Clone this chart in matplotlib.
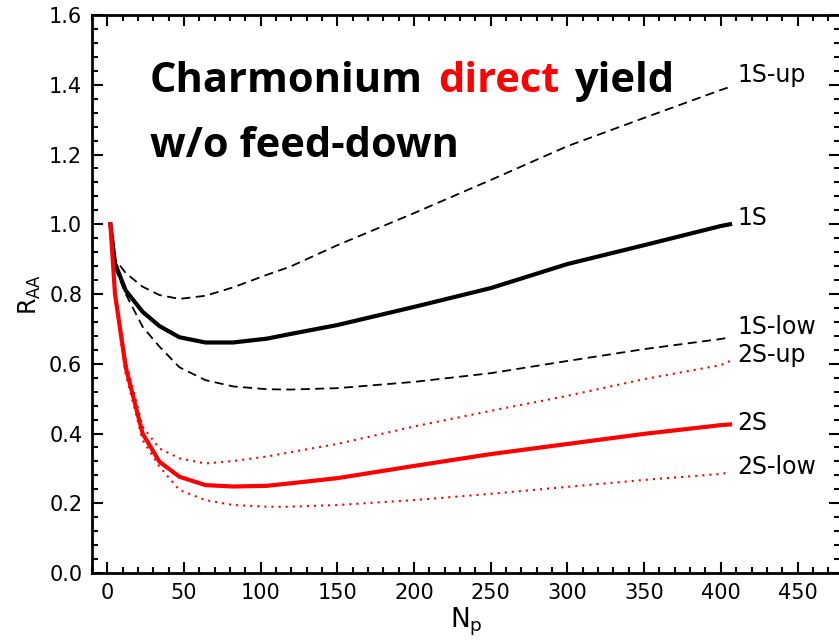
import numpy as np
import matplotlib
matplotlib.use("Agg")
import matplotlib.pyplot as plt
from matplotlib import ticker

# participant number
npart = [2, 5, 12, 23, 34, 47, 64, 82, 104, 119, 150, 200, 250, 300, 350, 400, 406]

# ground state 1S and its band
r1s = [1.0, 0.888, 0.81, 0.749, 0.708, 0.676, 0.661, 0.661, 0.672, 0.685, 0.711, 0.763, 0.817, 0.886, 0.94, 0.995, 1.0]
r1s_up = [1.0, 0.90, 0.86, 0.821, 0.797, 0.786, 0.795, 0.819, 0.855, 0.878, 0.94, 1.032, 1.127, 1.224, 1.305, 1.385, 1.394]
r1s_low = [1.0, 0.875, 0.80, 0.706, 0.649, 0.59, 0.553, 0.535, 0.527, 0.526, 0.53, 0.548, 0.573, 0.608, 0.642, 0.671, 0.676]

# excited state 2S and its band
r2s = [1.0, 0.80, 0.59, 0.40, 0.319, 0.276, 0.252, 0.248, 0.25, 0.257, 0.272, 0.307, 0.341, 0.37, 0.399, 0.424, 0.426]
r2s_up = [1.0, 0.81, 0.61, 0.42, 0.357, 0.329, 0.314, 0.321, 0.334, 0.346, 0.37, 0.42, 0.465, 0.508, 0.556, 0.596, 0.608]
r2s_low = [1.0, 0.79, 0.57, 0.381, 0.305, 0.238, 0.209, 0.195, 0.19, 0.19, 0.195, 0.209, 0.227, 0.247, 0.267, 0.284, 0.289]

labels = ["1S-up", "1S", "1S-low", "2S-up", "2S", "2S-low"]
label_y = [1.428, 1.018, 0.705, 0.625, 0.43, 0.304]

fig = plt.figure(figsize=(8.39, 6.41), dpi=100)
ax = fig.add_axes([0.10965, 0.10608, 0.8921, 0.8705])

ax.plot(npart, r1s_up, color="black", lw=1.3, ls=(0, (5, 3)))
ax.plot(npart, r1s, color="black", lw=3)
ax.plot(npart, r1s_low, color="black", lw=1.3, ls=(0, (5, 3)))
ax.plot(npart, r2s_up, color="red", lw=1.5, ls=(0, (1, 2.4)))
ax.plot(npart, r2s, color="red", lw=3)
ax.plot(npart, r2s_low, color="red", lw=1.5, ls=(0, (1, 2.4)))

for lab, yy in zip(labels, label_y):
    ax.text(411, yy, lab, fontsize=17, va="center", ha="left")

ax.set_xlim(-10, 478)
ax.set_ylim(0, 1.6)
ax.xaxis.set_major_locator(ticker.MultipleLocator(50))
ax.xaxis.set_minor_locator(ticker.MultipleLocator(10))
ax.yaxis.set_major_locator(ticker.MultipleLocator(0.2))
ax.yaxis.set_minor_locator(ticker.MultipleLocator(0.04))
ax.yaxis.set_major_formatter(ticker.FormatStrFormatter("%.1f"))
ax.tick_params(which="both", direction="in", top=True, right=True, labelsize=15, width=1.5)
ax.tick_params(which="major", length=8, pad=7)
ax.tick_params(which="minor", length=4)
for s in ax.spines.values():
    s.set_linewidth(2)

ax.set_xlabel(r"$\mathregular{N_p}$", fontsize=19, labelpad=2)
ax.set_ylabel(r"$\mathregular{R_{AA}}$", fontsize=17, labelpad=4)

# title: words placed one after the other, "direct" in red
tfont = dict(fontsize=30, fontweight="bold", family="Open Sans", va="baseline", ha="left")
renderer = fig.canvas.get_renderer()
x0 = 150
gap = 15
for word, col in [("Charmonium", "black"), ("direct", "red"), ("yield", "black")]:
    t = fig.text(x0 / 839, 1 - 92 / 641, word, color=col, **tfont)
    x0 = t.get_window_extent(renderer).x1 + gap
fig.text(150 / 839, 1 - 157 / 641, "w/o feed-down", color="black", **tfont)

fig.savefig("out.png", dpi=100)
